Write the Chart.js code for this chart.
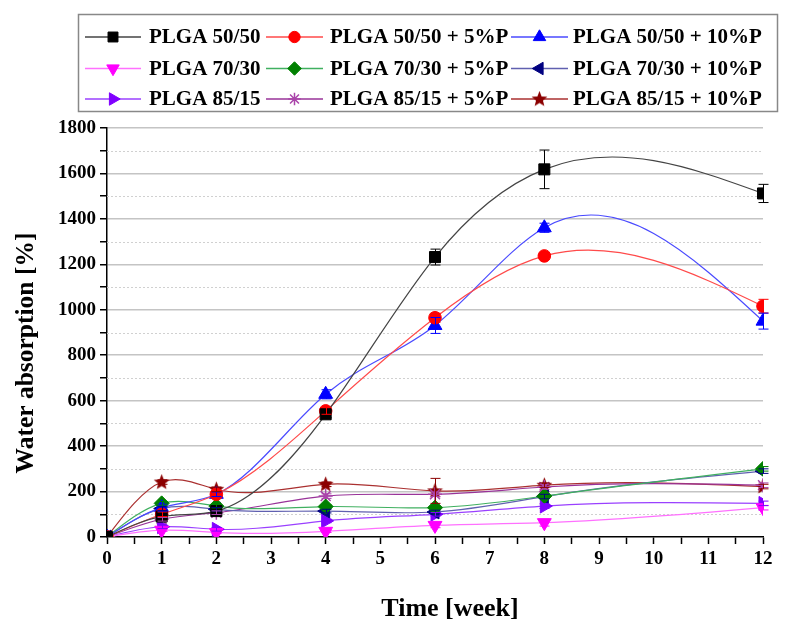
<!DOCTYPE html>
<html>
<head>
<meta charset="utf-8">
<script src="https://cdn.jsdelivr.net/npm/chart.js@4.4.1/dist/chart.umd.min.js"></script>
<style>
  html, body { margin: 0; padding: 0; background: #fff; }
</style>
</head>
<body>
<canvas id="absorptionChart" width="786" height="621"></canvas>
<script>
// time points (weeks)
const weeks = [0, 1, 2, 4, 6, 8, 12];

const seriesNames = [
  'PLGA 50/50', 'PLGA 50/50 + 5%P', 'PLGA 50/50 + 10%P',
  'PLGA 70/30', 'PLGA 70/30 + 5%P', 'PLGA 70/30 + 10%P',
  'PLGA 85/15', 'PLGA 85/15 + 5%P', 'PLGA 85/15 + 10%P'
];

// water absorption [%]
const plga5050     = [0, 90, 114, 540, 1232, 1618, 1512];
const plga5050_5P  = [0, 100, 188, 555, 965, 1237, 1016];
const plga5050_10P = [0, 129, 188, 628, 931, 1361, 950];
const plga7030     = [0, 30, 20, 25, 51, 63, 129];
const plga7030_5P  = [0, 148, 136, 134, 129, 180, 300];
const plga7030_10P = [0, 125, 122, 114, 110, 178, 290];
const plga8515     = [0, 45, 34, 71, 100, 136, 148];
const plga8515_5P  = [0, 78, 107, 180, 188, 220, 228];
const plga8515_10P = [0, 242, 210, 232, 203, 228, 222];

// standard deviations
const err5050     = [0, 10, 10, 15, 35, 85, 40];
const err5050_5P  = [0, 10, 10, 15, 20, 15, 30];
const err5050_10P = [0, 15, 10, 20, 35, 20, 35];
const err7030     = [0, 5, 5, 5, 10, 15, 10];
const err7030_5P  = [0, 8, 8, 8, 8, 10, 10];
const err7030_10P = [0, 8, 8, 8, 8, 10, 10];
const err8515     = [0, 8, 8, 8, 8, 10, 10];
const err8515_5P  = [0, 8, 8, 10, 10, 10, 10];
const err8515_10P = [0, 10, 10, 10, 55, 10, 10];

const yTicks = [0, 200, 400, 600, 800, 1000, 1200, 1400, 1600, 1800];

const markerColors = ['#000000', '#ff0000', '#0000ff', '#ff00ff', '#008000', '#000080', '#8000ff', '#aa44aa', '#8b0000'];
const lineColors   = ['#444444', '#ff4a4a', '#4a4aff', '#ff70ff', '#40b060', '#6060b0', '#9a40ff', '#993399', '#aa3030'];

// five point star for the last series
function makeStar(color) {
  const c = document.createElement('canvas');
  c.width = 17; c.height = 17;
  const g = c.getContext('2d');
  g.fillStyle = color;
  g.beginPath();
  for (let i = 0; i < 10; i++) {
    const r = i % 2 === 0 ? 8.3 : 3.6;
    const a = -Math.PI / 2 + i * Math.PI / 5;
    const px = 8.5 + r * Math.cos(a), py = 8.8 + r * Math.sin(a);
    if (i === 0) g.moveTo(px, py); else g.lineTo(px, py);
  }
  g.closePath();
  g.fill();
  return c;
}
const starImg = makeStar('#8b0000');

const pointStyles = ['rect', 'circle', 'triangle', 'triangle', 'rectRot', 'triangle', 'triangle', 'star', starImg];
const rotations   = [0, 0, 0, 180, 0, 270, 90, 0, 0];
const radii       = [7.8, 6.3, 8, 8, 7.5, 8, 8, 7, 7];

const values = [plga5050, plga5050_5P, plga5050_10P, plga7030, plga7030_5P, plga7030_10P, plga8515, plga8515_5P, plga8515_10P];
const errors = [err5050, err5050_5P, err5050_10P, err7030, err7030_5P, err7030_10P, err8515, err8515_5P, err8515_10P];

const datasets = seriesNames.map((name, i) => ({
  label: name,
  data: weeks.map((w, j) => ({ x: w, y: values[i][j] })),
  errors: errors[i],
  showLine: true,
  tension: 0.4,
  borderColor: lineColors[i],
  borderWidth: 1.2,
  pointStyle: pointStyles[i],
  rotation: rotations[i],
  pointRadius: radii[i],
  pointBackgroundColor: markerColors[i],
  pointBorderColor: markerColors[i],
  pointBorderWidth: i === 7 ? 1.5 : 1
}));

const serif = "'Liberation Serif', 'DejaVu Serif', serif";

// natural cubic spline control points (like the Origin "spline" connector)
const naturalSpline = {
  id: 'naturalSpline',
  afterDatasetsUpdate(chart) {
    chart.data.datasets.forEach((ds, di) => {
      const meta = chart.getDatasetMeta(di);
      const pts = meta.data;
      const n = pts.length;
      if (n < 3) return;
      const x = pts.map(p => p.x), y = pts.map(p => p.y);
      const h = [];
      for (let i = 0; i < n - 1; i++) h.push(x[i + 1] - x[i]);
      // solve for second derivatives, M0 = Mn = 0
      const a = new Array(n).fill(0), b = new Array(n).fill(1), c = new Array(n).fill(0), r = new Array(n).fill(0);
      for (let i = 1; i < n - 1; i++) {
        a[i] = h[i - 1] / 6;
        b[i] = (h[i - 1] + h[i]) / 3;
        c[i] = h[i] / 6;
        r[i] = (y[i + 1] - y[i]) / h[i] - (y[i] - y[i - 1]) / h[i - 1];
      }
      for (let i = 1; i < n; i++) {
        const m = a[i] / b[i - 1];
        b[i] -= m * c[i - 1];
        r[i] -= m * r[i - 1];
      }
      const M = new Array(n).fill(0);
      M[n - 1] = r[n - 1] / b[n - 1];
      for (let i = n - 2; i >= 0; i--) M[i] = (r[i] - c[i] * M[i + 1]) / b[i];
      // slopes at the knots
      const d = [];
      for (let i = 0; i < n - 1; i++) d.push((y[i + 1] - y[i]) / h[i] - h[i] * (2 * M[i] + M[i + 1]) / 6);
      d.push((y[n - 1] - y[n - 2]) / h[n - 2] + h[n - 2] * (M[n - 2] + 2 * M[n - 1]) / 6);
      for (let i = 0; i < n; i++) {
        const hin = i > 0 ? h[i - 1] / 3 : 0;
        const hout = i < n - 1 ? h[i] / 3 : 0;
        pts[i].cp1x = x[i] - hin;
        pts[i].cp1y = y[i] - hin * d[i];
        pts[i].cp2x = x[i] + hout;
        pts[i].cp2y = y[i] + hout * d[i];
      }
      if (meta.dataset) meta.dataset._pointsUpdated = true;
    });
  }
};

// dotted minor grid lines
const minorGrid = {
  id: 'minorGrid',
  beforeDatasetsDraw(chart) {
    const { ctx, chartArea, scales } = chart;
    ctx.save();
    ctx.strokeStyle = '#d0d0d0';
    ctx.lineWidth = 1;
    ctx.setLineDash([2, 2]);
    for (let v = 100; v < 1800; v += 200) {
      const y = Math.round(scales.y.getPixelForValue(v)) + 0.5;
      ctx.beginPath();
      ctx.moveTo(chartArea.left, y);
      ctx.lineTo(chartArea.right, y);
      ctx.stroke();
    }
    ctx.restore();
  }
};

// error bars
const errorBars = {
  id: 'errorBars',
  afterDatasetsDraw(chart) {
    const ctx = chart.ctx;
    const ys = chart.scales.y;
    chart.data.datasets.forEach((ds, i) => {
      const meta = chart.getDatasetMeta(i);
      ctx.save();
      ctx.strokeStyle = markerColors[i];
      ctx.lineWidth = 1;
      meta.data.forEach((pt, j) => {
        const e = ds.errors[j];
        if (!e) return;
        const v = ds.data[j].y;
        const top = ys.getPixelForValue(v + e);
        const bot = ys.getPixelForValue(v - e);
        const x = Math.round(pt.x) + 0.5;
        ctx.beginPath();
        ctx.moveTo(x, top); ctx.lineTo(x, bot);
        ctx.moveTo(x - 5, top); ctx.lineTo(x + 5, top);
        ctx.moveTo(x - 5, bot); ctx.lineTo(x + 5, bot);
        ctx.stroke();
      });
      ctx.restore();
    });
  }
};

// boxed legend (3 columns) and the two axis titles
const boxLegend = {
  id: 'boxLegend',
  afterDraw(chart) {
    const ctx = chart.ctx;
    const rowsY = [37, 68.5, 99];
    const lineX = [[85, 141], [266, 323], [511, 568]];
    const textX = [149, 330, 573];
    ctx.save();
    ctx.strokeStyle = '#888';
    ctx.lineWidth = 1.5;
    ctx.strokeRect(78.5, 14.5, 699, 97);
    ctx.font = 'bold 21px ' + serif;
    ctx.textBaseline = 'middle';
    ctx.textAlign = 'left';
    seriesNames.forEach((name, i) => {
      const r = Math.floor(i / 3), c = i % 3;
      const y = rowsY[r];
      ctx.strokeStyle = lineColors[i];
      ctx.lineWidth = 1.5;
      ctx.beginPath();
      ctx.moveTo(lineX[c][0], y);
      ctx.lineTo(lineX[c][1], y);
      ctx.stroke();
      ctx.fillStyle = markerColors[i];
      ctx.strokeStyle = markerColors[i];
      ctx.lineWidth = i === 7 ? 1.5 : 1;
      const mx = (lineX[c][0] + lineX[c][1]) / 2;
      if (Chart.helpers && Chart.helpers.drawPoint) {
        Chart.helpers.drawPoint(ctx, { pointStyle: pointStyles[i], rotation: rotations[i], radius: radii[i] * 0.9, borderWidth: ctx.lineWidth }, mx, y);
      }
      ctx.fillStyle = '#000';
      ctx.fillText(name, textX[c], y + 1);
    });

    // axis titles
    ctx.fillStyle = '#000';
    ctx.font = 'bold 26px ' + serif;
    ctx.textAlign = 'center';
    ctx.fillText('Time [week]', 450, 609);
    ctx.translate(26, 353);
    ctx.rotate(-Math.PI / 2);
    ctx.font = 'bold 25.5px ' + serif;
    ctx.fillText('Water absorption [%]', 0, 0);
    ctx.restore();
  }
};

new Chart(document.getElementById('absorptionChart').getContext('2d'), {
  type: 'scatter',
  data: { datasets: datasets },
  options: {
    responsive: false,
    animation: false,
    layout: { padding: { top: 128, right: 23, left: 0, bottom: 0 } },
    plugins: {
      legend: { display: false },
      tooltip: { enabled: false }
    },
    scales: {
      x: {
        type: 'linear',
        min: 0,
        max: 12,
        afterFit: (scale) => { scale.height = 84; },
        ticks: {
          stepSize: 0.5,
          autoSkip: false,
          maxRotation: 0,
          color: '#000',
          padding: 4,
          font: { family: serif, size: 19, weight: 'bold' },
          callback: (v) => Number.isInteger(v) ? v : ''
        },
        grid: { drawOnChartArea: false, tickColor: '#000', tickLength: 7, tickWidth: 1.5 },
        border: { color: '#000', width: 1.5 }
      },
      y: {
        min: 0,
        max: 1800,
        afterFit: (scale) => { scale.width = 107; },
        afterBuildTicks: (scale) => {
          const t = [];
          for (let v = 0; v <= 1800; v += 100) t.push({ value: v });
          scale.ticks = t;
        },
        ticks: {
          autoSkip: false,
          color: '#000',
          padding: 4,
          font: { family: serif, size: 19, weight: 'bold' },
          callback: (v) => yTicks.includes(v) ? v : ''
        },
        grid: {
          color: (c) => (c.tick && c.tick.value % 200 === 0 && c.tick.value > 0) ? '#c4c4c4' : 'rgba(0,0,0,0)',
          lineWidth: 1.5,
          tickColor: '#000',
          tickLength: 7,
          tickWidth: 1.5
        },
        border: { color: '#000', width: 1.5 }
      }
    }
  },
  plugins: [naturalSpline, minorGrid, errorBars, boxLegend]
});
</script>
</body>
</html>
